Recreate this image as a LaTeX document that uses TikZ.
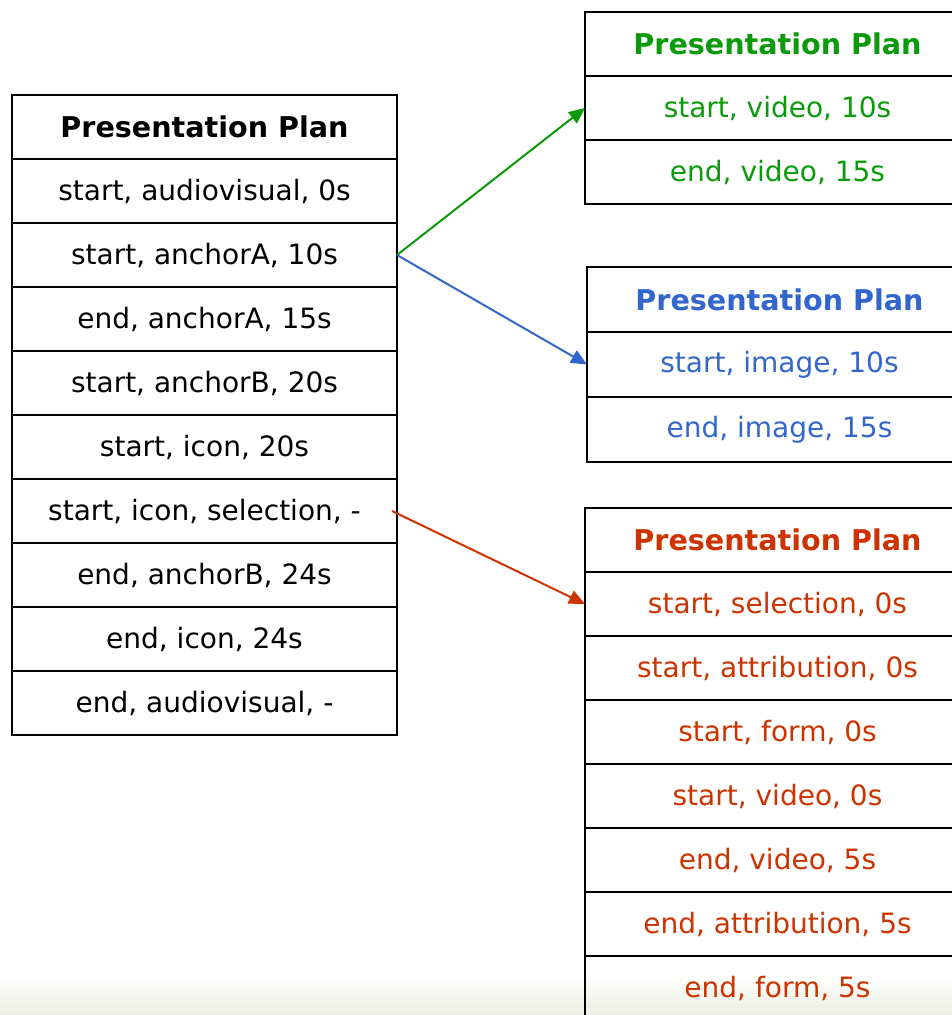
\documentclass[tikz,border=0pt]{standalone}
\usepackage{fontspec}
\setmainfont{DejaVu Sans}
\usetikzlibrary{arrows.meta}
\definecolor{plangreen}{HTML}{0A9A0A}
\definecolor{planblue}{HTML}{3366CC}
\definecolor{planred}{HTML}{CC3300}
\definecolor{haze}{HTML}{ECEEE2}
\tikzset{
  cell/.style={draw=black, line width=2.6pt, minimum width=385pt, minimum height=#1,
    inner sep=0pt, outer sep=0pt, font=\fontsize{28}{30}\selectfont},
  cell/.default=64pt,
  link/.style={line width=2pt, -{Triangle[length=16pt,width=14pt]}}
}
\newcommand{\planhead}{{\fontsize{28.6}{30}\selectfont\bfseries Presentation Plan}}
\begin{document}
\begin{tikzpicture}[x=1pt,y=-1pt]
\useasboundingbox (0,0) rectangle (952,1015);
\clip (0,0) rectangle (952,1015);
% faint band along the bottom edge
\shade[top color=white, bottom color=haze] (0,975) rectangle (952,1015);

% main plan
\foreach \t [count=\i from 0] in {{\planhead},{start, audiovisual, 0s},{start, anchorA, 10s},
  {end, anchorA, 15s},{start, anchorB, 20s},{start, icon, 20s},{start, icon, selection, -},
  {end, anchorB, 24s},{end, icon, 24s},{end, audiovisual, -}}
  \node[cell=64pt] (L\i) at (204.5,{127+64*\i}) {\t};

% video plan
\foreach \t [count=\i from 0] in {{\planhead},{start, video, 10s},{end, video, 15s}}
  \node[cell=64pt, text=plangreen] (G\i) at (777.5,{44+64*\i}) {\t};

% image plan
\foreach \t [count=\i from 0] in {{\planhead},{start, image, 10s},{end, image, 15s}}
  \node[cell=65pt, text=planblue] (B\i) at (779.5,{299.5+65*\i}) {\t};

% selection plan
\foreach \t [count=\i from 0] in {{\planhead},{start, selection, 0s},{start, attribution, 0s},
  {start, form, 0s},{start, video, 0s},{end, video, 5s},{end, attribution, 5s},{end, form, 5s}}
  \node[cell=64pt, text=planred] (R\i) at (777.5,{540+64*\i}) {\t};

% links between plans
\coordinate (rs) at ([xshift=-5pt]L6.east);
\draw[link, plangreen] (L2.east) -- (G1.west);
\draw[link, planblue] (L2.east) -- (B1.west);
\draw[link, planred] (rs) -- (R1.west);
\end{tikzpicture}
\end{document}
